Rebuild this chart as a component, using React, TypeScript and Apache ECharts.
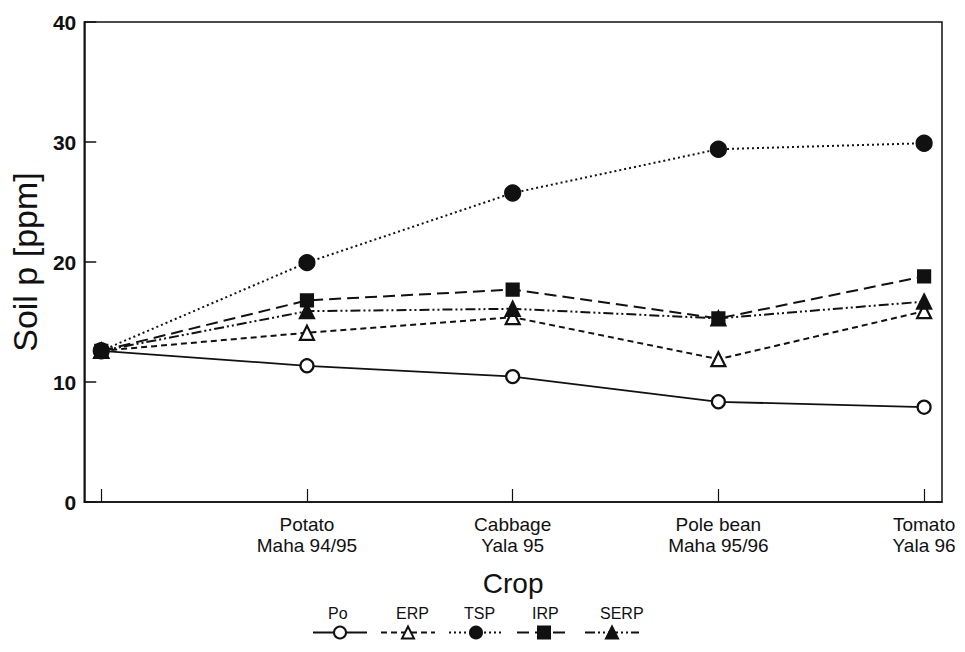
import React, { useEffect, useRef } from "react";
import * as echarts from "echarts";

const xPositions = [0, 1, 2, 3, 4];
const cropLabels = ["", "Potato\nMaha 94/95", "Cabbage\nYala 95", "Pole bean\nMaha 95/96", "Tomato\nYala 96"];
const seriesNames = ["Po", "ERP", "TSP", "IRP", "SERP"];
const po = [12.6, 11.35, 10.45, 8.35, 7.9];
const erp = [12.6, 14.1, 15.4, 11.9, 15.9];
const tsp = [12.6, 19.95, 25.75, 29.4, 29.9];
const irp = [12.6, 16.8, 17.7, 15.3, 18.8];
const serp = [12.6, 15.9, 16.1, 15.3, 16.7];
const yTicks = [0, 10, 20, 30, 40];

const FONT = "Liberation Sans, Arial, sans-serif";

function toPairs(vals: number[]) {
  return vals.map((v, i) => [xPositions[i], v]);
}

export default function App() {
  const ref = useRef<HTMLDivElement>(null);
  useEffect(() => {
    if (!ref.current) return;
    const chart = echarts.init(ref.current, null, { renderer: "svg" });
    const black = "#111";
    const mk = (
      name: string,
      vals: number[],
      lineType: any,
      symbol: string,
      size: number,
      filled: boolean,
      width = 2
    ) => ({
      name,
      type: "line",
      data: toPairs(vals),
      symbol,
      symbolSize: size,
      showAllSymbol: true,
      lineStyle: { color: black, width, type: lineType },
      itemStyle: { color: filled ? black : "#fff", borderColor: black, borderWidth: 2.2 },
      z: 3,
    });
    chart.setOption({
      animation: false,
      backgroundColor: "#fff",
      grid: {
        left: 83,
        right: 23,
        top: 22,
        bottom: 150,
        show: true,
        borderColor: black,
        borderWidth: 1.5,
        backgroundColor: "transparent",
      },
      legend: {
        left: 307,
        top: 600,
        itemWidth: 54,
        itemHeight: 15,
        itemGap: 8,
        data: seriesNames,
        formatter: (n: string) => n + "\n\n\n",
        textStyle: {
          fontFamily: FONT,
          fontSize: 16,
          lineHeight: 13,
          color: black,
          padding: [0, 0, 0, -44],
        },
      },
      xAxis: {
        type: "value",
        min: -0.0825,
        max: 4.087,
        splitLine: { show: false },
        axisLine: { show: true, onZero: false, lineStyle: { color: black, width: 1.5 } },
        axisTick: {
          show: true,
          inside: true,
          length: 13,
          lineStyle: { color: black, width: 1.2 },
          customValues: xPositions,
        },
        axisLabel: {
          customValues: xPositions.slice(1),
          formatter: (v: number) => cropLabels[Math.round(v)] ?? "",
          fontFamily: FONT,
          fontSize: 19,
          lineHeight: 21,
          color: black,
          margin: 12,
        },
        name: "Crop",
        nameLocation: "middle",
        nameGap: 67,
        nameTextStyle: { fontFamily: FONT, fontSize: 28, color: black },
      },
      yAxis: {
        type: "value",
        min: yTicks[0],
        max: yTicks[yTicks.length - 1],
        interval: 10,
        splitLine: { show: false },
        axisLine: { show: true, onZero: false, lineStyle: { color: black, width: 1.5 } },
        axisTick: { show: true, inside: true, length: 12, lineStyle: { color: black, width: 1.5 } },
        axisLabel: {
          fontFamily: FONT,
          fontSize: 21,
          fontWeight: "bold",
          color: black,
          margin: 8,
        },
        name: "Soil p [ppm]",
        nameLocation: "middle",
        nameGap: 37,
        nameTextStyle: { fontFamily: FONT, fontSize: 34, color: black },
      },
      series: [
        mk(seriesNames[0], po, "solid", "circle", 13, false, 1.8),
        mk(seriesNames[1], erp, [6, 4], "triangle", 14, false),
        mk(seriesNames[2], tsp, [2, 3], "circle", 15, true),
        mk(seriesNames[3], irp, [12, 6], "rect", 12, true),
        mk(seriesNames[4], serp, [10, 3, 2, 3, 2, 3], "triangle", 14, true),
      ],
    });
    return () => chart.dispose();
  }, []);
  return (
    <div
      ref={ref}
      style={{ position: "absolute", left: 0, top: 0, width: 965, height: 652, background: "#fff" }}
    />
  );
}
